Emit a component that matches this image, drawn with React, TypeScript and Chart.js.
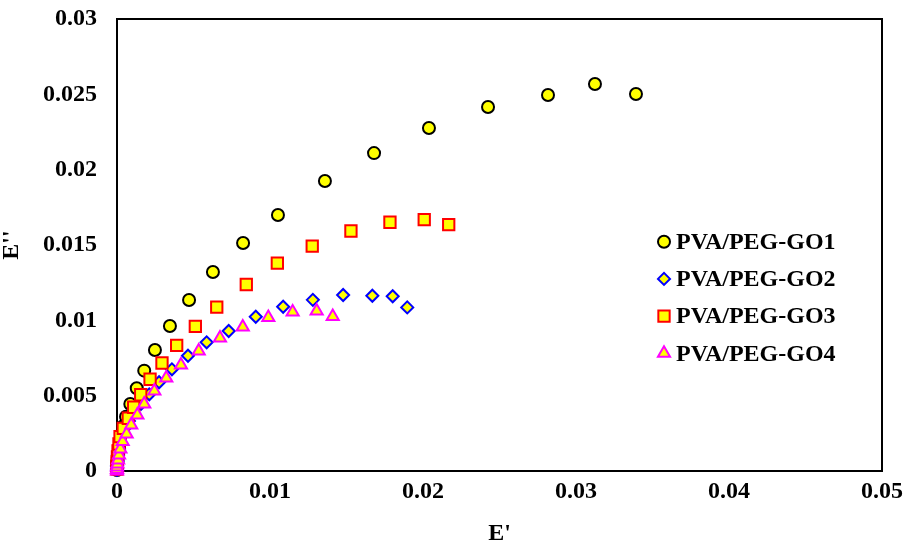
import React, { useEffect, useRef } from 'react';
import { Chart, registerables } from 'chart.js';
import { drawPoint } from 'chart.js/helpers';

Chart.register(...registerables);

const seriesNames = ['PVA/PEG-GO1', 'PVA/PEG-GO2', 'PVA/PEG-GO3', 'PVA/PEG-GO4'];

const go1X = [0, 0, 0.00001, 0.00003, 0.00005, 0.00008, 0.00013, 0.0002, 0.00029, 0.00042, 0.00059, 0.00087, 0.00129, 0.00178, 0.00248, 0.00346, 0.00471, 0.00627, 0.00824, 0.01052, 0.01359, 0.0168, 0.02039, 0.02425, 0.02817, 0.03124, 0.03392];
const go1Y = [0.00007, 0.0002, 0.00037, 0.0006, 0.00086, 0.00119, 0.00159, 0.00199, 0.00246, 0.00299, 0.0036, 0.00445, 0.00549, 0.00666, 0.00803, 0.00962, 0.01135, 0.01321, 0.01513, 0.01699, 0.01925, 0.0211, 0.02277, 0.02416, 0.02496, 0.02569, 0.02502];

const go2X = [0, 0, 0.00003, 0.00007, 0.00013, 0.0002, 0.00033, 0.00052, 0.00078, 0.00111, 0.00157, 0.00211, 0.00275, 0.00359, 0.00464, 0.00586, 0.0073, 0.00907, 0.01086, 0.0128, 0.01478, 0.01669, 0.01802, 0.01897];
const go2Y = [0.00007, 0.00033, 0.00066, 0.00106, 0.00146, 0.00192, 0.00239, 0.00285, 0.00332, 0.00385, 0.00445, 0.00509, 0.00589, 0.00675, 0.00765, 0.00854, 0.00929, 0.01024, 0.0109, 0.01136, 0.01168, 0.01163, 0.0116, 0.01086];

const go3X = [0, 0, 0.00001, 0.00003, 0.00007, 0.00013, 0.0002, 0.00041, 0.00074, 0.00109, 0.00155, 0.00216, 0.00294, 0.0039, 0.00512, 0.00652, 0.00845, 0.01048, 0.01276, 0.01529, 0.01784, 0.02008, 0.02168];
const go3Y = [0.00013, 0.00033, 0.0006, 0.00093, 0.00133, 0.00179, 0.00228, 0.00283, 0.0035, 0.00423, 0.00506, 0.00609, 0.00717, 0.00834, 0.0096, 0.01088, 0.01238, 0.0138, 0.01493, 0.01593, 0.01651, 0.01668, 0.01635];

const go4X = [0, 0, 0, 0.00003, 0.00007, 0.00013, 0.00022, 0.00037, 0.00063, 0.00093, 0.00133, 0.00178, 0.00244, 0.00322, 0.00418, 0.00534, 0.00673, 0.00822, 0.00989, 0.01148, 0.01305, 0.0141];
const go4Y = [0, 0.0001, 0.00027, 0.00046, 0.00073, 0.00106, 0.00146, 0.00196, 0.00246, 0.00305, 0.00372, 0.00445, 0.00531, 0.00617, 0.00704, 0.00796, 0.00883, 0.00956, 0.01019, 0.01055, 0.01062, 0.01025];

const xTickLabels = ['0', '0.01', '0.02', '0.03', '0.04', '0.05'];
const yTickLabels = ['0', '0.005', '0.01', '0.015', '0.02', '0.025', '0.03'];

const FONT = '"Liberation Serif", "Times New Roman", serif';

const styles = [
  { pointStyle: 'circle', radius: 6, border: '#000000', width: 2 },
  { pointStyle: 'rectRot', radius: 6, border: '#0000FF', width: 2 },
  { pointStyle: 'rect', radius: 8, border: '#FF0000', width: 2 },
  { pointStyle: 'triangle', radius: 7, border: '#FF00FF', width: 2 },
];

const zip = (xs: number[], ys: number[]) => xs.map((x, i) => ({ x, y: ys[i] }));

const framePlugin = {
  id: 'frameBox',
  beforeDatasetsDraw(chart: any) {
    const { ctx, chartArea } = chart;
    ctx.save();
    ctx.strokeStyle = '#000';
    ctx.lineWidth = 2;
    ctx.strokeRect(chartArea.left, chartArea.top, chartArea.right - chartArea.left, chartArea.bottom - chartArea.top);
    ctx.restore();
  },
};

const legendPlugin = {
  id: 'insideLegend',
  afterDraw(chart: any) {
    const { ctx, chartArea } = chart;
    ctx.save();
    chart.data.datasets.forEach((ds: any, i: number) => {
      const y = chartArea.top + 222.7 + i * 37.2;
      const mx = chartArea.left + 547;
      ctx.fillStyle = ds.pointBackgroundColor;
      ctx.strokeStyle = ds.pointBorderColor;
      ctx.lineWidth = ds.pointBorderWidth;
      drawPoint(ctx, { pointStyle: ds.pointStyle, radius: ds.pointRadius, rotation: 0, borderWidth: ds.pointBorderWidth }, mx, y);
      ctx.fillStyle = '#000';
      ctx.font = 'bold 24px ' + FONT;
      ctx.textAlign = 'left';
      ctx.textBaseline = 'middle';
      ctx.fillText(ds.label, chartArea.left + 559, y + 1);
    });
    ctx.restore();
  },
};

export default function App() {
  const ref = useRef<HTMLCanvasElement>(null);
  useEffect(() => {
    if (!ref.current) return;
    const series = [zip(go1X, go1Y), zip(go2X, go2Y), zip(go3X, go3Y), zip(go4X, go4Y)];
    const chart = new Chart(ref.current, {
      type: 'scatter',
      data: {
        datasets: series.map((d, i) => ({
          label: seriesNames[i],
          data: d,
          pointStyle: styles[i].pointStyle as any,
          pointRadius: styles[i].radius,
          pointHoverRadius: styles[i].radius,
          pointBackgroundColor: '#FFFF00',
          pointBorderColor: styles[i].border,
          pointBorderWidth: styles[i].width,
          showLine: false,
          clip: false as any,
          order: 3 - i,
        })),
      },
      options: {
        animation: false,
        responsive: true,
        maintainAspectRatio: false,
        layout: { padding: { top: 19, right: 25, left: 0, bottom: 0 } },
        plugins: { legend: { display: false }, tooltip: { enabled: false } },
        scales: {
          x: {
            type: 'linear',
            min: 0,
            max: 0.05,
            grid: { display: false, drawTicks: false },
            border: { display: false },
            ticks: {
              stepSize: 0.01,
              padding: 6,
              color: '#000',
              font: { family: FONT, size: 24, weight: 'bold' },
              callback: (_v: any, i: number) => xTickLabels[i],
              maxRotation: 0,
            },
            title: {
              display: true,
              text: "E'",
              color: '#000',
              font: { family: FONT, size: 24, weight: 'bold', lineHeight: 1 },
              padding: 0,
            },
            afterFit: (s: any) => { s.height = 75; s.paddingLeft = 0; s.paddingRight = 0; s.paddingTop = 0; s.paddingBottom = 0; },
          },
          y: {
            type: 'linear',
            min: 0,
            max: 0.03,
            grid: { display: false, drawTicks: false },
            border: { display: false },
            ticks: {
              stepSize: 0.005,
              padding: 20,
              color: '#000',
              font: { family: FONT, size: 24, weight: 'bold' },
              callback: (_v: any, i: number) => yTickLabels[i],
            },
            title: {
              display: true,
              text: "E''",
              color: '#000',
              font: { family: FONT, size: 24, weight: 'bold', lineHeight: 1 },
              padding: 0,
            },
            afterFit: (s: any) => { s.width = 117; s.paddingLeft = 0; s.paddingRight = 0; s.paddingTop = 0; s.paddingBottom = 0; },
          },
        },
      },
      plugins: [framePlugin, legendPlugin],
    });
    return () => chart.destroy();
  }, []);
  return (
    <div style={{ position: 'absolute', left: 0, top: 0, width: 907, height: 546 }}>
      <canvas ref={ref} />
    </div>
  );
}
